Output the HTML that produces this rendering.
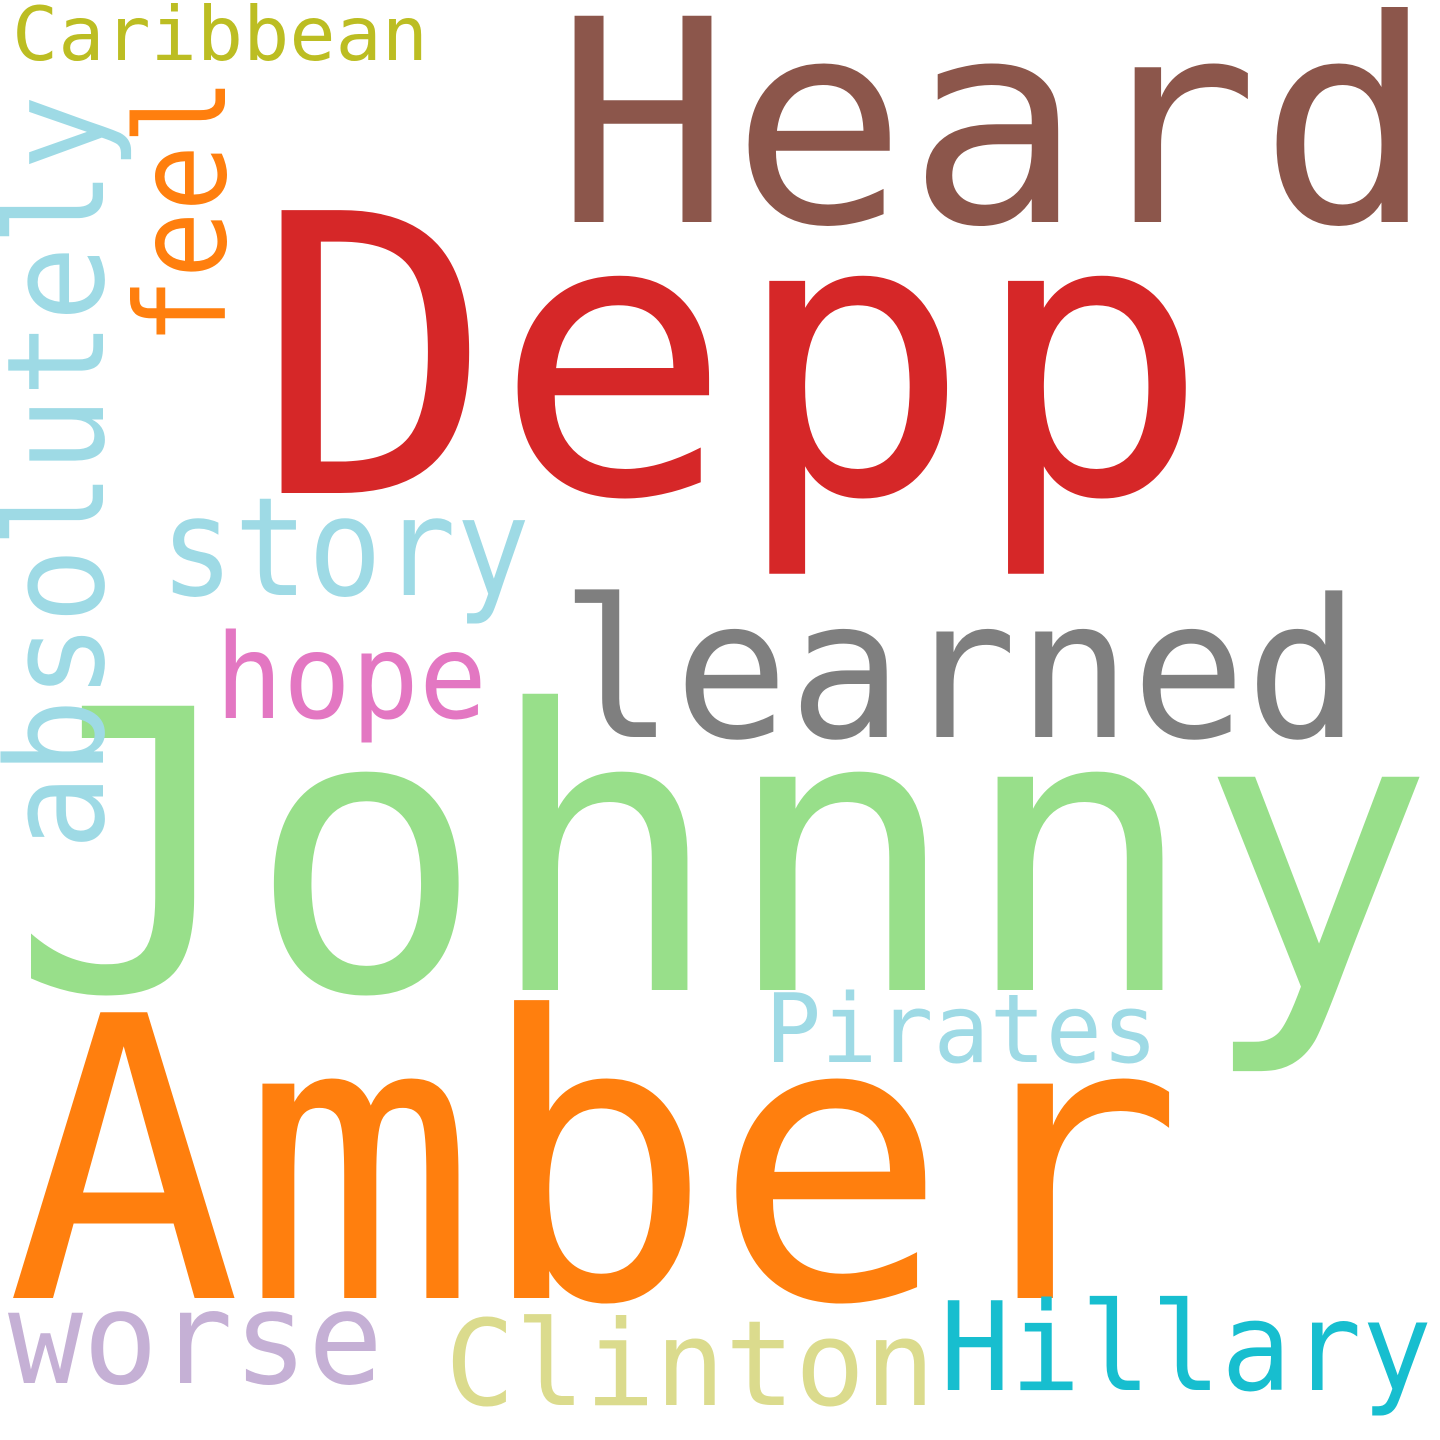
<!DOCTYPE html>
<html><head><meta charset="utf-8"><style>
html,body{margin:0;padding:0;background:#fff;}
svg{display:block;}
text{font-family:"DejaVu Sans Mono","Liberation Mono",monospace;}
</style></head><body>
<svg width="1440" height="1440" viewBox="0 0 1440 1440">
<rect width="1440" height="1440" fill="#fff"/>
<text x="12" y="60" font-size="75" fill="#bcbd22" textLength="416" lengthAdjust="spacingAndGlyphs">Caribbean</text>
<text x="555" y="222" font-size="283" fill="#8c564b" textLength="880" lengthAdjust="spacingAndGlyphs">Heard</text>
<text x="255" y="493" font-size="388" fill="#d62728" textLength="955" lengthAdjust="spacingAndGlyphs">Depp</text>
<text x="560" y="737" font-size="193" fill="#7f7f7f" textLength="800" lengthAdjust="spacingAndGlyphs">learned</text>
<text x="160" y="595" font-size="137" fill="#9edae5" textLength="370" lengthAdjust="spacingAndGlyphs">story</text>
<text x="215" y="718" font-size="118" fill="#e377c2" textLength="272" lengthAdjust="spacingAndGlyphs">hope</text>
<text x="10" y="990" font-size="390" fill="#98df8a" textLength="1425" lengthAdjust="spacingAndGlyphs">Johnny</text>
<text x="765" y="1062" font-size="95" fill="#9edae5" textLength="393" lengthAdjust="spacingAndGlyphs">Pirates</text>
<text x="6" y="1298" font-size="392" fill="#ff7f0e" textLength="1178" lengthAdjust="spacingAndGlyphs">Amber</text>
<text x="8" y="1383" font-size="128" fill="#c5b0d5" textLength="375" lengthAdjust="spacingAndGlyphs">worse</text>
<text x="445" y="1405" font-size="119" fill="#dbdb8d" textLength="490" lengthAdjust="spacingAndGlyphs">Clinton</text>
<text x="940" y="1390" font-size="123" fill="#17becf" textLength="492" lengthAdjust="spacingAndGlyphs">Hillary</text>
<text transform="translate(103,850) rotate(-90)" x="0" y="0" font-size="135" fill="#9edae5" textLength="755" lengthAdjust="spacingAndGlyphs">absolutely</text>
<text transform="translate(225,345) rotate(-90)" x="0" y="0" font-size="125" fill="#ff7f0e" textLength="267" lengthAdjust="spacingAndGlyphs">feel</text>
</svg>
</body></html>
